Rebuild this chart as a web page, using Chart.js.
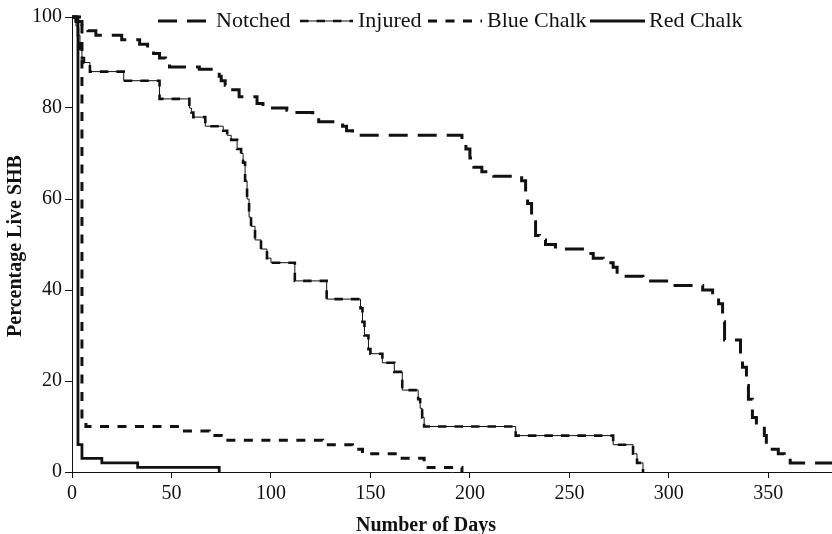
<!DOCTYPE html>
<html>
<head>
<meta charset="utf-8">
<script src="https://cdn.jsdelivr.net/npm/chart.js@4"></script>
<style>
  html, body { margin: 0; padding: 0; background: #fff; }
  #wrap { width: 832px; height: 534px; }
</style>
</head>
<body>
<div id="wrap"><canvas id="c"></canvas></div>
<script>
const xTicks = [0, 50, 100, 150, 200, 250, 300, 350];
const yTicks = [0, 20, 40, 60, 80, 100];
const seriesNames = ['Notched', 'Injured', 'Blue Chalk', 'Red Chalk'];

// [day, % live SHB] at each step of the survival curves
const notched = [[0,100],[2,99],[5,98],[8,97],[12,96],[25,95],[34,94],[38,93],[41,92],[44,91],[47,90],[49,89],
  [64,88.5],[74,87],[75,86],[77,85],[80,84],[84,82.5],[93,81],[96,80],[108,79.5],[110,79],[121,78],[124,77],
  [136,76],[138,75],[141,74],[196,73],[198,71],[200,69],[202,67],[206,66],[212,65],[226,64],[228,62],[229,59],
  [231,55],[233,52],[235,51],[238,50],[243,49],[259,48],[262,47],[267,46],[272,45],[274,43],[287,42],[300,41],
  [317,40],[322,39],[325,37],[327,33],[328,29],[336,26],[337,23],[339,19],[340,16],[342,12],[344,10],[348,8],
  [349,6],[350,5],[355,4],[358,3],[361,2],[382,2]];
const injured = [[0,100],[2,98],[3,96],[4,93],[5,91],[6,90],[9,88],[26,86],[44,82],[59,80],[60,79],[61,78],
  [67,76],[76,75],[78,74],[80,73],[83,71],[85,70],[86,68],[87,64],[88,60],[89,56],[90,54],[92,51],[95,49],
  [98,47],[100,46],[112,42],[128,38],[145,36],[146,33],[147,30],[149,27],[150,26],[156,24],[162,22],[166,18],
  [174,16],[175,14],[176,12],[177,10],[223,8],[272,6],[282,4],[284,2],[287,0]];
const blueChalk = [[0,100],[5,11],[7,10],[53,9],[69,8],[75,7],[126,6],[141,5],[146,4],[164,3],[177,1],[196,0]];
const redChalk = [[0,100],[3,6],[5,3],[15,2],[33,1],[74,0]];

const toXY = arr => arr.map(p => ({x: p[0], y: p[1]}));

const serif = '"Liberation Serif", "Times New Roman", serif';
const ink = '#111';

// line looks, shared by the curves and the legend
const looks = {
  'Notched':    [{w: 3, dash: [19, 10]}],
  'Injured':    [{w: 1, dash: []}, {w: 2.6, dash: [8.5, 8]}],
  'Blue Chalk': [{w: 3, dash: [9, 8.5]}],
  'Red Chalk':  [{w: 2.8, dash: []}]
};
const seriesData = [notched, injured, blueChalk, redChalk];

const datasets = [];
seriesNames.forEach((name, i) => {
  looks[name].forEach(l => {
    datasets.push({
      label: name,
      data: toXY(seriesData[i]),
      stepped: true,
      borderColor: ink,
      borderWidth: l.w,
      borderDash: l.dash,
      pointRadius: 0,
      fill: false,
      clip: false
    });
  });
});

const legendSpots = [
  {name: 'Notched', x1: 158, x2: 208, tx: 216},
  {name: 'Injured', x1: 300, x2: 353, tx: 358},
  {name: 'Blue Chalk', x1: 428, x2: 482, tx: 487},
  {name: 'Red Chalk', x1: 590, x2: 645, tx: 649}
];

const overlay = {
  id: 'overlay',
  afterDraw(chart) {
    const ctx = chart.ctx;
    ctx.save();
    // legend
    legendSpots.forEach(s => {
      looks[s.name].forEach(l => {
        ctx.beginPath();
        ctx.setLineDash(l.dash);
        ctx.lineWidth = l.w;
        ctx.strokeStyle = ink;
        ctx.moveTo(s.x1, 21);
        ctx.lineTo(s.x2, 21);
        ctx.stroke();
      });
      ctx.setLineDash([]);
      ctx.fillStyle = ink;
      ctx.font = '22px ' + serif;
      ctx.textAlign = 'left';
      ctx.textBaseline = 'alphabetic';
      ctx.fillText(s.name, s.tx, 27);
    });
    // axis titles
    ctx.font = 'bold 20px ' + serif;
    ctx.textAlign = 'center';
    ctx.fillText('Number of Days', 426, 531);
    ctx.translate(21, 246);
    ctx.rotate(-Math.PI / 2);
    ctx.fillText('Percentage Live SHB', 0, 0);
    ctx.restore();
  }
};

new Chart(document.getElementById('c'), {
  type: 'line',
  data: { datasets: datasets },
  plugins: [overlay],
  options: {
    responsive: true,
    maintainAspectRatio: false,
    animation: false,
    layout: { padding: { top: 17, right: 0, left: 0, bottom: 0 } },
    plugins: { legend: { display: false }, tooltip: { enabled: false } },
    scales: {
      x: {
        type: 'linear', min: 0, max: 382,
        afterBuildTicks: s => { s.ticks = xTicks.map(v => ({value: v})); },
        afterFit: s => { s.height = 62; },
        grid: { drawOnChartArea: false, tickLength: 6, color: ink, tickColor: ink },
        border: { color: ink, width: 1 },
        ticks: { font: { family: serif, size: 20 }, color: ink, padding: 4, maxRotation: 0 }
      },
      y: {
        min: 0, max: 100,
        afterBuildTicks: s => { s.ticks = yTicks.map(v => ({value: v})); },
        afterFit: s => { s.width = 72; },
        grid: { drawOnChartArea: false, tickLength: 7, color: ink, tickColor: ink },
        border: { color: ink, width: 1 },
        ticks: { font: { family: serif, size: 20 }, color: ink, padding: 3 }
      }
    }
  }
});
</script>
</body>
</html>
